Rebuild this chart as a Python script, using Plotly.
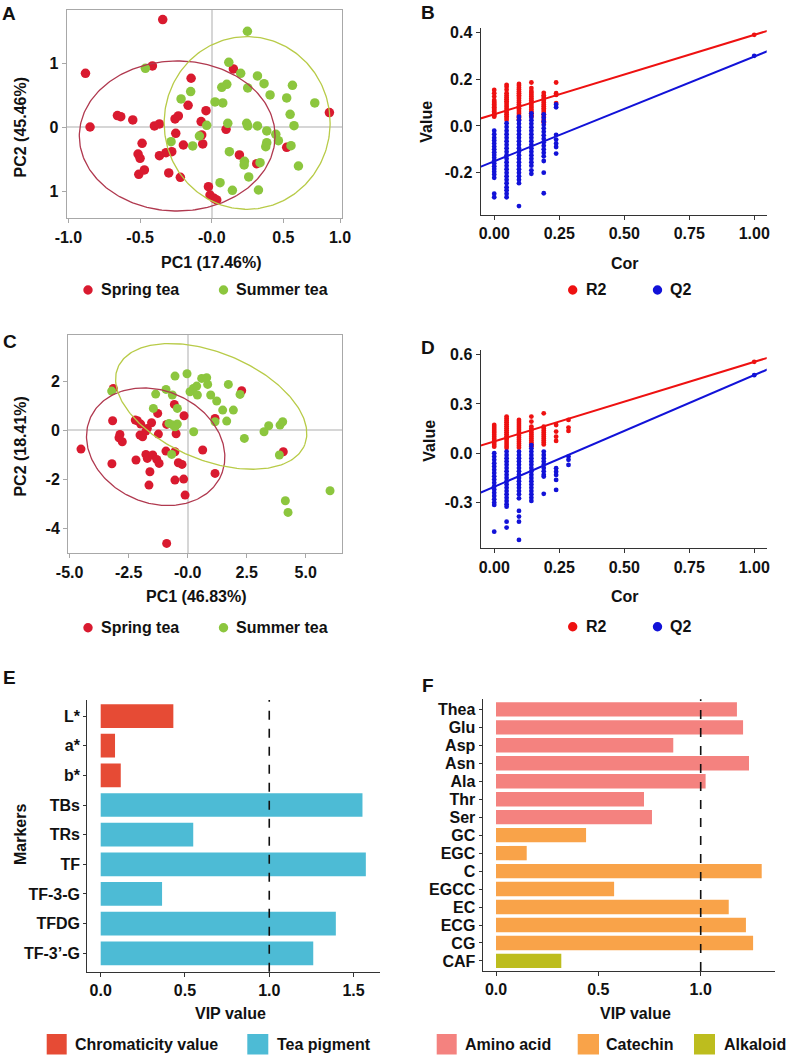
import numpy as np
import plotly.graph_objects as go

W, H = 787, 1058
def fx(p): return p / W
def fy(p): return 1 - p / H

FONT = "Liberation Sans, Arial, sans-serif"
TXT = "#111111"

# ---------------- Panel A (PCA, 17.46 / 45.46) ----------------
a_spring_x = [-0.342, -0.881, -0.414, -0.144, 0.151, -0.849, -0.658, -0.635, -0.551, -0.400,
              -0.365, -0.256, -0.233, -0.165, -0.040, -0.074, -0.251, -0.070, -0.063, -0.198,
              -0.486, -0.514, -0.500, -0.365, -0.319, -0.279, -0.509, -0.470, -0.300, -0.219,
              0.100, 0.193, 0.314, 0.523, 0.821, -0.023, -0.012, 0.016, 0.035]
a_spring_y = [1.687, 0.846, 0.961, 0.768, 0.914, 0.005, 0.183, 0.167, 0.115, 0.021,
              0.052, 0.131, 0.178, 0.345, 0.261, 0.089, -0.094, -0.120, -0.261, -0.277,
              -0.251, -0.418, -0.486, -0.444, -0.397, -0.381, -0.736, -0.668, -0.715, -0.783,
              -0.031, -0.433, -0.569, -0.313, 0.230, -0.930, -1.060, -1.112, -1.138]
a_summer_x = [0.249, -0.463, 0.119, 0.202, 0.319, 0.365, 0.563, 0.070, 0.105, 0.251,
              0.407, 0.523, 0.719, -0.147, -0.214, 0.023, 0.077, 0.547, 0.574, 0.112,
              0.244, 0.251, 0.319, -0.035, 0.384, 0.447, 0.465, 0.384, 0.377, 0.553,
              -0.086, -0.284, -0.133, 0.123, 0.228, 0.226, 0.337, 0.605, 0.258, 0.058,
              0.144, 0.326]
a_summer_y = [1.504, 0.924, 1.018, 0.846, 0.804, 0.684, 0.658, 0.627, 0.674, 0.616,
              0.507, 0.460, 0.381, 0.559, 0.444, 0.397, 0.381, 0.204, 0.026, 0.063,
              0.063, 0.021, 0.021, 0.031, -0.057, -0.110, -0.209, -0.240, -0.303, -0.287,
              -0.136, -0.225, -0.292, -0.381, -0.533, -0.590, -0.554, -0.606, -0.778, -0.867,
              -0.987, -0.982]
a_x_ticks = [-1.0, -0.5, 0.0, 0.5, 0.895]
a_x_ticktext = ["-1.0", "-0.5", "-0.0", "0.5", "1.0"]
a_y_ticks = [1, 0, -1]
a_y_ticktext = ["1", "0", "1"]
# ellipse: centre x, centre y, semi-axis 1, semi-axis 2, angle (deg)
a_spring_ell = [-0.241, -0.136, 0.683, 1.175, 0.0]
a_summer_ell = [0.247, 0.068, 0.579, 1.352, 0.0]

# ---------------- Panel C (PCA, 46.83 / 18.41) ----------------
c_spring_x = [-4.52, -3.15, -3.18, -3.21, -2.87, -2.77, -2.91, -2.13, -1.99, -1.91,
              -2.02, -1.71, -1.53, -1.77, -1.24, -1.27, -2.19, -1.77, -1.71, -1.48,
              -1.31, -1.21, -1.60, -1.64, -0.92, -0.54, -0.89, -0.49, -0.565, -0.155,
              -0.395, -0.24, -0.54, -0.17, -0.11, -0.89, 0.636, 1.158, 1.158, 2.288,
              4.05, -2.22]
c_spring_y = [-0.776, 1.70, 0.381, -1.374, -0.177, -0.476, -0.313, 0.381, 0.245, -0.272,
              -0.204, 0.068, 0.299, -0.041, -0.163, 0.680, -1.224, -0.993, -1.156, -1.020,
              -1.197, -1.361, -1.701, -2.245, -0.857, -0.884, 0.231, -0.150, 1.048, 0.585,
              -1.333, -1.401, -2.041, -2.000, -2.653, -4.626, -0.816, -1.769, 0.476, 1.605,
              -0.884, 0.408]
c_summer_x = [-3.22, -0.537, -0.028, -0.918, -1.356, -0.650, -1.455, -0.438, -0.791, -0.607,
              -0.438, -0.537, -0.678, 0.254, 0.099, 0.240, 0.381, 0.410, 0.593, 0.805,
              0.847, 0.975, 1.229, 1.483, 1.723, 1.935, 1.653, 1.158, 2.218, 2.401,
              3.234, 3.432, 3.912, 4.025, 3.884, 4.138, 4.251, 6.031]
c_summer_y = [1.592, 2.204, 2.299, 1.660, 1.469, 1.429, 0.884, 0.884, 0.272, 0.204,
              0.245, 0.136, -0.993, -0.068, 1.565, 1.701, 1.796, 1.429, 2.109, 2.136,
              1.864, 1.429, 1.184, 0.816, 1.864, 0.816, 0.367, 0.340, 1.456, -0.340,
              -0.068, 0.177, 0.204, 0.340, -1.020, -2.884, -3.361, -2.476]
c_x_ticks = [-5.0, -2.5, 0.0, 2.5, 5.0]
c_x_ticktext = ["-5.0", "-2.5", "-0.0", "2.5", "5.0"]
c_y_ticks = [2, 0, -2, -4]
c_y_ticktext = ["2", "0", "-2", "-4"]
c_spring_ell = [-1.356, -0.680, 3.01, 2.30, -20.7]
c_summer_ell = [0.996, 0.966, 4.26, 2.20, -21.2]

group_names = ["Spring tea", "Summer tea"]

# ---------------- Panel B (permutation test) ----------------
b_cor = [0.0, 0.0476, 0.0952, 0.1429, 0.1905, 0.2381]
b_r2 = [
    [0.154, 0.140, 0.126, 0.111, 0.104, 0.098, 0.092, 0.086, 0.080, 0.074, 0.068, 0.062, 0.056, 0.050, 0.045, 0.040],
    [0.176, 0.168, 0.155, 0.140, 0.130, 0.122, 0.114, 0.106, 0.098, 0.090, 0.082, 0.074, 0.066, 0.058, 0.050, 0.042, 0.034, 0.026],
    [0.180, 0.172, 0.164, 0.156, 0.148, 0.140, 0.132, 0.124, 0.116, 0.108, 0.100, 0.092, 0.084, 0.076, 0.068, 0.060, 0.052, 0.044, 0.036, 0.028],
    [0.186, 0.162, 0.150, 0.142, 0.134, 0.126, 0.118, 0.110, 0.102, 0.094, 0.086, 0.078, 0.070, 0.062, 0.054, 0.046, 0.038],
    [0.142, 0.132, 0.124, 0.116, 0.108, 0.100, 0.092, 0.084, 0.076, 0.068, 0.060, 0.050, 0.040, 0.026, 0.016],
    [0.186, 0.140, 0.133, 0.098],
]
b_q2 = [
    [-0.020, -0.035, -0.050, -0.062, -0.075, -0.088, -0.100, -0.112, -0.124, -0.136, -0.148, -0.160, -0.172, -0.184, -0.196, -0.208, -0.222, -0.290, -0.305],
    [0.012, -0.004, -0.020, -0.035, -0.050, -0.065, -0.080, -0.095, -0.110, -0.125, -0.140, -0.155, -0.170, -0.185, -0.200, -0.215, -0.230, -0.245, -0.262, -0.275, -0.290, -0.305],
    [0.040, 0.025, 0.010, -0.005, -0.020, -0.035, -0.050, -0.065, -0.080, -0.095, -0.110, -0.125, -0.140, -0.155, -0.170, -0.185, -0.200, -0.215, -0.230, -0.245, -0.343],
    [0.054, 0.040, 0.025, 0.010, -0.005, -0.020, -0.035, -0.050, -0.065, -0.080, -0.095, -0.110, -0.125, -0.140, -0.155, -0.170, -0.190, -0.205],
    [0.050, 0.035, 0.020, 0.005, -0.010, -0.025, -0.040, -0.055, -0.070, -0.085, -0.100, -0.115, -0.130, -0.150, -0.200, -0.288],
    [0.092, 0.080, -0.038, -0.058, -0.075, -0.090, -0.118],
]
b_model = [1.0, 0.39, 0.30]          # cor, R2, Q2 of the real model
b_r2_fit = [0.050, 0.340]            # intercept, slope
b_q2_fit = [-0.151, 0.448]

# ---------------- Panel D (permutation test) ----------------
d_cor = [0.0, 0.0476, 0.0952, 0.1429, 0.1905, 0.2381, 0.2857]
d_r2 = [
    [0.172, 0.160, 0.148, 0.136, 0.124, 0.112, 0.100, 0.088, 0.076, 0.064, 0.052, 0.040],
    [0.223, 0.212, 0.200, 0.188, 0.176, 0.164, 0.152, 0.140, 0.128, 0.116, 0.104, 0.092, 0.080, 0.068, 0.056, 0.044, 0.032],
    [0.203, 0.190, 0.178, 0.166, 0.154, 0.142, 0.130, 0.118, 0.106, 0.094, 0.082, 0.070, 0.058, 0.046, 0.034],
    [0.223, 0.193, 0.162, 0.150, 0.138, 0.126, 0.114, 0.102, 0.090, 0.078, 0.066, 0.054, 0.042],
    [0.243, 0.162, 0.150, 0.138, 0.126, 0.114, 0.102, 0.090, 0.078, 0.066, 0.054],
    [0.172, 0.132, 0.101, 0.075],
    [0.203, 0.156, 0.136],
]
d_q2 = [
    [0.000, -0.020, -0.040, -0.060, -0.080, -0.100, -0.120, -0.140, -0.160, -0.180, -0.200, -0.220, -0.240, -0.260, -0.280, -0.300, -0.314, -0.477],
    [0.010, -0.010, -0.030, -0.050, -0.070, -0.090, -0.110, -0.130, -0.150, -0.170, -0.190, -0.210, -0.230, -0.250, -0.270, -0.290, -0.310, -0.325, -0.416, -0.452],
    [0.010, -0.010, -0.030, -0.050, -0.070, -0.090, -0.110, -0.130, -0.150, -0.170, -0.190, -0.210, -0.230, -0.250, -0.274, -0.351, -0.385, -0.416, -0.527],
    [0.050, 0.030, 0.010, -0.010, -0.030, -0.050, -0.070, -0.090, -0.110, -0.130, -0.150, -0.170, -0.190, -0.210, -0.230, -0.250, -0.270, -0.290],
    [0.010, -0.010, -0.030, -0.050, -0.070, -0.090, -0.110, -0.130, -0.142, -0.247],
    [-0.091, -0.112, -0.132, -0.162, -0.223],
    [-0.020, -0.040, -0.071],
]
d_model = [1.0, 0.556, 0.475]
d_r2_fit = [0.072, 0.484]
d_q2_fit = [-0.204, 0.679]

perm_names = ["R2", "Q2"]
perm_x_ticks = [0.0, 0.25, 0.5, 0.75, 1.0]
perm_x_ticktext = ["0.00", "0.25", "0.50", "0.75", "1.00"]
b_y_ticks = [0.4, 0.2, 0.0, -0.2]
b_y_ticktext = ["0.4", "0.2", "0.0", "-0.2"]
d_y_ticks = [0.6, 0.3, 0.0, -0.3]
d_y_ticktext = ["0.6", "0.3", "0.0", "-0.3"]

# ---------------- Panel E (VIP) ----------------
e_markers = ["L*", "a*", "b*", "TBs", "TRs", "TF", "TF-3-G", "TFDG", "TF-3\u2019-G"]
e_vip = [0.431, 0.085, 0.119, 1.553, 0.549, 1.573, 0.364, 1.395, 1.261]
e_group = ["Chromaticity value", "Chromaticity value", "Chromaticity value",
           "Tea pigment", "Tea pigment", "Tea pigment", "Tea pigment", "Tea pigment", "Tea pigment"]
e_groups = ["Chromaticity value", "Tea pigment"]

# ---------------- Panel F (VIP) ----------------
f_markers = ["Thea", "Glu", "Asp", "Asn", "Ala", "Thr", "Ser", "GC", "EGC", "C",
             "EGCC", "EC", "ECG", "CG", "CAF"]
f_vip = [1.177, 1.207, 0.866, 1.236, 1.024, 0.723, 0.762, 0.440, 0.150, 1.298,
         0.577, 1.137, 1.221, 1.256, 0.319]
f_group = ["Amino acid"] * 7 + ["Catechin"] * 7 + ["Alkaloid"]
f_groups = ["Amino acid", "Catechin", "Alkaloid"]
vip_threshold = 1.0

# ---------------- colours ----------------
C_SPRING = "#D91A2F"
C_SUMMER = "#8CC63E"
C_SPRING_ELL = "#B0394F"
C_SUMMER_ELL = "#B8CB48"
C_R2 = "#EE1111"
C_Q2 = "#1212D8"
e_colors = {"Chromaticity value": "#E64B35", "Tea pigment": "#4DBBD5"}
f_colors = {"Amino acid": "#F4827F", "Catechin": "#F9A349", "Alkaloid": "#BDBD1E"}


def ellipse_xy(p, n=241):
    cx, cy, rx, ry, ang = p
    t = np.linspace(0, 2 * np.pi, n)
    th = np.deg2rad(ang)
    x = cx + rx * np.cos(t) * np.cos(th) - ry * np.sin(t) * np.sin(th)
    y = cy + rx * np.cos(t) * np.sin(th) + ry * np.sin(t) * np.cos(th)
    return x, y


fig = go.Figure()

# PCA panels
for xa, ya, sx, sy, ux, uy, se, ue, msize in [
    ("x", "y", a_spring_x, a_spring_y, a_summer_x, a_summer_y, a_spring_ell, a_summer_ell, 9.5),
    ("x3", "y3", c_spring_x, c_spring_y, c_summer_x, c_summer_y, c_spring_ell, c_summer_ell, 9),
]:
    fig.add_trace(go.Scatter(x=sx, y=sy, mode="markers", name=group_names[0], xaxis=xa, yaxis=ya,
                             marker=dict(color=C_SPRING, size=msize, line=dict(width=0)), showlegend=False))
    fig.add_trace(go.Scatter(x=ux, y=uy, mode="markers", name=group_names[1], xaxis=xa, yaxis=ya,
                             marker=dict(color=C_SUMMER, size=msize, line=dict(width=0)), showlegend=False))
    ex, ey = ellipse_xy(se)
    fig.add_trace(go.Scatter(x=ex, y=ey, mode="lines", xaxis=xa, yaxis=ya, hoverinfo="skip",
                             line=dict(color=C_SPRING_ELL, width=1.3), showlegend=False))
    ex, ey = ellipse_xy(ue)
    fig.add_trace(go.Scatter(x=ex, y=ey, mode="lines", xaxis=xa, yaxis=ya, hoverinfo="skip",
                             line=dict(color=C_SUMMER_ELL, width=1.3), showlegend=False))


def flat(cors, cols):
    xs, ys = [], []
    for c, col in zip(cors, cols):
        for v in col:
            xs.append(c)
            ys.append(v)
    return xs, ys


for xa, ya, cor, r2, q2, model, r2fit, q2fit in [
    ("x2", "y2", b_cor, b_r2, b_q2, b_model, b_r2_fit, b_q2_fit),
    ("x4", "y4", d_cor, d_r2, d_q2, d_model, d_r2_fit, d_q2_fit),
]:
    rx, ry = flat(cor, r2)
    qx, qy = flat(cor, q2)
    fig.add_trace(go.Scatter(x=rx + [model[0]], y=ry + [model[1]], mode="markers", name=perm_names[0],
                             xaxis=xa, yaxis=ya, marker=dict(color=C_R2, size=4.8), showlegend=False))
    fig.add_trace(go.Scatter(x=qx + [model[0]], y=qy + [model[2]], mode="markers", name=perm_names[1],
                             xaxis=xa, yaxis=ya, marker=dict(color=C_Q2, size=4.8), showlegend=False))
    lx = np.array([-0.1, 1.1])
    fig.add_trace(go.Scatter(x=lx, y=r2fit[0] + r2fit[1] * lx, mode="lines", xaxis=xa, yaxis=ya,
                             line=dict(color=C_R2, width=2), showlegend=False, hoverinfo="skip"))
    fig.add_trace(go.Scatter(x=lx, y=q2fit[0] + q2fit[1] * lx, mode="lines", xaxis=xa, yaxis=ya,
                             line=dict(color=C_Q2, width=2), showlegend=False, hoverinfo="skip"))

# VIP bars
fig.add_trace(go.Bar(x=e_vip, y=e_markers, orientation="h", width=0.8, xaxis="x5", yaxis="y5",
                     marker=dict(color=[e_colors[g] for g in e_group], line=dict(width=0)),
                     showlegend=False))
fig.add_trace(go.Bar(x=f_vip, y=f_markers, orientation="h", width=0.8, xaxis="x6", yaxis="y6",
                     marker=dict(color=[f_colors[g] for g in f_group], line=dict(width=0)),
                     showlegend=False))

tickfont = dict(family=FONT, size=16, color=TXT, weight="bold")

pca_axis = dict(showline=True, mirror=True, linecolor="#A8A8A8", linewidth=1, ticks="outside",
                ticklen=4, tickcolor="#A8A8A8", showgrid=False, zeroline=True,
                zerolinecolor="#D6D6D6", zerolinewidth=1.5, tickfont=tickfont, tickmode="array")
cls_axis = dict(showline=True, mirror=False, linecolor="#333333", linewidth=1.3, ticks="outside",
                ticklen=4, tickcolor="#333333", showgrid=False, zeroline=False, tickfont=tickfont)

fig.update_layout(
    width=W, height=H, autosize=False, margin=dict(l=0, r=0, t=0, b=0),
    paper_bgcolor="white", plot_bgcolor="white", template="none",
    font=dict(family=FONT, size=16, color=TXT, weight="bold"),
    barmode="overlay", showlegend=False,
    xaxis=dict(pca_axis, domain=[fx(66.7), fx(342.3)], range=[-1.012, 0.911], anchor="y",
               tickvals=a_x_ticks, ticktext=a_x_ticktext),
    yaxis=dict(pca_axis, domain=[fy(218.3), fy(10)], range=[-1.425, 1.837], anchor="x",
               tickvals=a_y_ticks, ticktext=a_y_ticktext),
    xaxis3=dict(pca_axis, domain=[fx(68), fx(342.3)], range=[-5.07, 6.55], anchor="y3",
                tickvals=c_x_ticks, ticktext=c_x_ticktext),
    yaxis3=dict(pca_axis, domain=[fy(553.3), fy(335)], range=[-5.03, 3.88], anchor="x3",
                tickvals=c_y_ticks, ticktext=c_y_ticktext),
    xaxis2=dict(cls_axis, domain=[fx(480.7), fx(766.7)], range=[-0.052, 1.048], anchor="y2",
                tickmode="array", tickvals=perm_x_ticks, ticktext=perm_x_ticktext),
    yaxis2=dict(cls_axis, domain=[fy(215), fy(28.3)], range=[-0.381, 0.418], anchor="x2",
                tickmode="array", tickvals=b_y_ticks, ticktext=b_y_ticktext),
    xaxis4=dict(cls_axis, domain=[fx(480.7), fx(766.7)], range=[-0.052, 1.048], anchor="y4",
                tickmode="array", tickvals=perm_x_ticks, ticktext=perm_x_ticktext),
    yaxis4=dict(cls_axis, domain=[fy(548.3), fy(350)], range=[-0.578, 0.628], anchor="x4",
                tickmode="array", tickvals=d_y_ticks, ticktext=d_y_ticktext),
    xaxis5=dict(cls_axis, domain=[fx(87.3), fx(380)], range=[-0.0795, 1.657], anchor="y5",
                tickmode="array", tickvals=[0, 0.5, 1.0, 1.5], ticktext=["0.0", "0.5", "1.0", "1.5"]),
    yaxis5=dict(cls_axis, domain=[fy(971.7), fy(700)], anchor="x5", type="category",
                categoryorder="array", categoryarray=e_markers, range=[len(e_markers) - 0.38, -0.54],
                tickmode="array", tickvals=e_markers, ticktext=e_markers, ticklen=3),
    xaxis6=dict(cls_axis, domain=[fx(482.7), fx(775)], range=[-0.065, 1.363], anchor="y6",
                tickmode="array", tickvals=[0, 0.5, 1.0], ticktext=["0.0", "0.5", "1.0"]),
    yaxis6=dict(cls_axis, domain=[fy(971), fy(699.3)], anchor="x6", type="category",
                categoryorder="array", categoryarray=f_markers, range=[len(f_markers) - 0.44, -0.56],
                tickmode="array", tickvals=f_markers, ticktext=f_markers, ticklen=3),
)

shapes = []
# threshold lines
for xa, ya in [("x5", "y5"), ("x6", "y6")]:
    shapes.append(dict(type="line", xref=xa, yref=ya + " domain", x0=vip_threshold, x1=vip_threshold,
                       y0=0, y1=1, line=dict(color="#111111", width=1.6, dash="dash")))

annotations = []


def text(px, py, s, size=16, xanchor="center", angle=0):
    annotations.append(dict(xref="paper", yref="paper", x=fx(px), y=fy(py), text=s, showarrow=False,
                            xanchor=xanchor, yanchor="middle", textangle=angle,
                            font=dict(family=FONT, size=size, color=TXT, weight="bold")))


def dot(px, py, r, color):
    shapes.append(dict(type="circle", xref="paper", yref="paper", x0=fx(px - r), x1=fx(px + r),
                       y0=fy(py + r), y1=fy(py - r), fillcolor=color, line=dict(width=0)))


def square(px0, px1, py0, py1, color):
    shapes.append(dict(type="rect", xref="paper", yref="paper", x0=fx(px0), x1=fx(px1),
                       y0=fy(py1), y1=fy(py0), fillcolor=color, line=dict(width=0)))


# panel letters
for s, px, py in [("A", 9, 13.5), ("B", 427.5, 12.5), ("C", 10, 341.5),
                  ("D", 427.5, 347.5), ("E", 9, 677), ("F", 428, 685)]:
    text(px, py, s, size=19)

# axis titles
text(212, 262.5, "PC1 (17.46%)")
text(20.8, 126.7, "PC2 (45.46%)", angle=-90)
text(625, 263, "Cor")
text(427, 121.7, "Value", angle=-90)
text(196.7, 596.7, "PC1 (46.83%)")
text(20.8, 445.8, "PC2 (18.41%)", angle=-90)
text(625, 596.7, "Cor")
text(430, 440.7, "Value", angle=-90)
text(230, 1013.3, "VIP value")
text(20, 835, "Markers", angle=-90)
text(635, 1013.3, "VIP value")

# legends: PCA
for ly in (290, 627.7):
    dot(88, ly, 4.7, C_SPRING)
    text(99, ly, group_names[0], xanchor="left")
    dot(223.5, ly, 4.7, C_SUMMER)
    text(234, ly, group_names[1], xanchor="left")
# legends: permutation
for ly in (290, 626.7):
    dot(572.7, ly, 4.7, C_R2)
    text(583.5, ly, perm_names[0], xanchor="left")
    dot(657.5, ly, 4.7, C_Q2)
    text(667.5, ly, perm_names[1], xanchor="left")
# legends: VIP E
for (x0, x1, tx), g in zip([(46.7, 66.7, 73), (247.3, 268.3, 275)], e_groups):
    square(x0, x1, 1034, 1054.5, e_colors[g])
    text(tx, 1044.3, g, xanchor="left")
# legends: VIP F
for (x0, x1, tx), g in zip([(436.7, 456.7, 463), (577.7, 599, 603.5), (694, 715, 721.5)], f_groups):
    square(x0, x1, 1034, 1054.5, f_colors[g])
    text(tx, 1044.3, g, xanchor="left")

fig.update_layout(shapes=shapes, annotations=annotations)
fig.write_html("out.html", config={"displayModeBar": False},
               post_script="document.body.style.margin='0';document.body.style.overflow='hidden';")
